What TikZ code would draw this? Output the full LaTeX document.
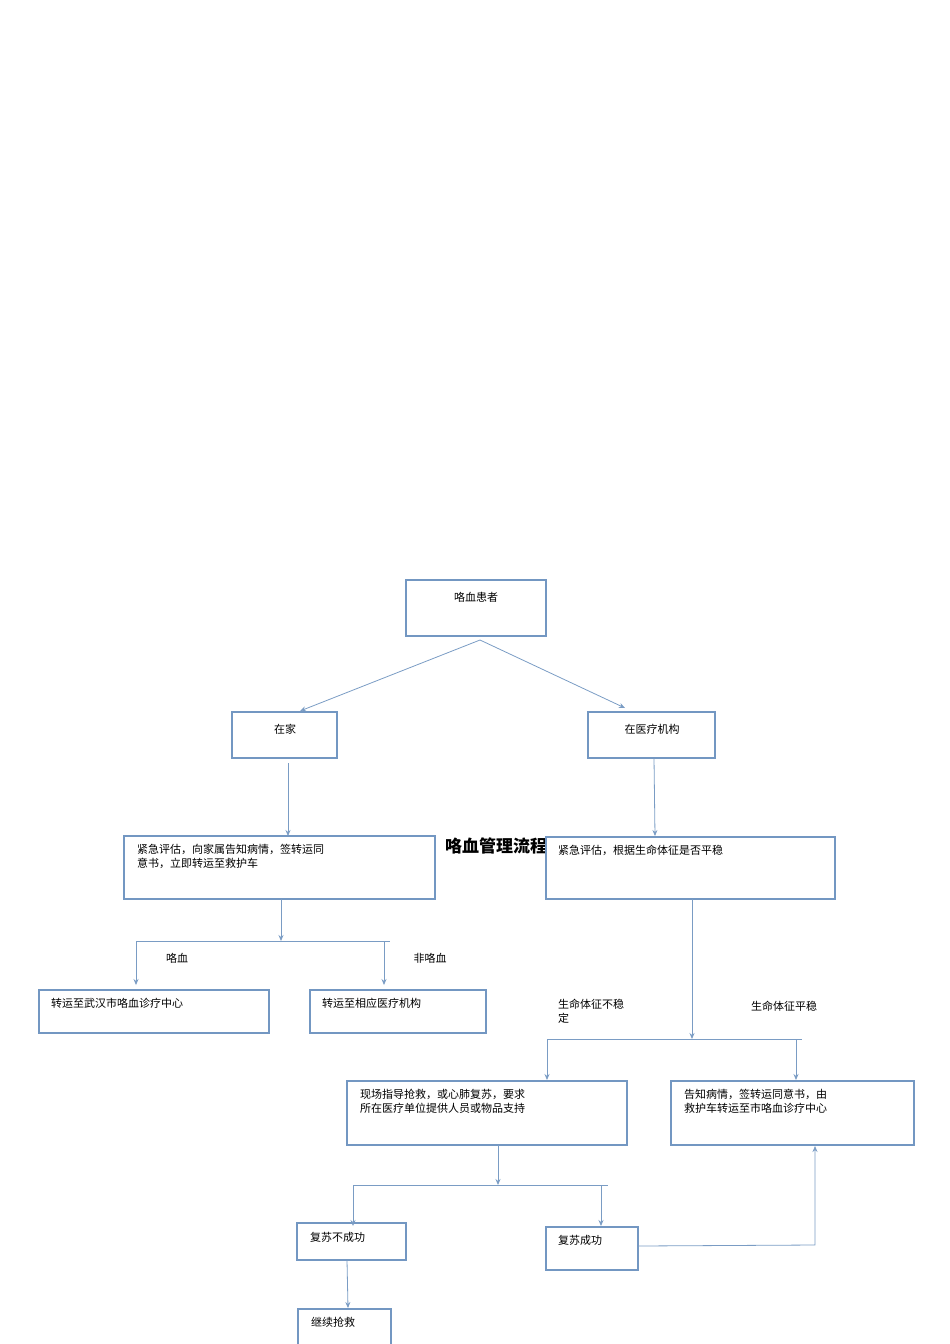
\documentclass[tikz,border=0pt]{standalone}
\usepackage{fontspec}
\setmainfont{Noto Sans CJK SC}
\begin{document}
\begin{tikzpicture}[x=1pt,y=-1pt,
 bx/.style={draw=boxc,line width=1.2pt,fill=white,inner sep=0pt},
 ln/.style={draw=linec,line width=0.8pt},
 ar/.style={ln,-{Stealth[length=6pt,width=5pt]}},
 tx/.style={anchor=north west,font=\fontsize{11}{14}\selectfont,align=left,inner sep=0pt},
 lb/.style={font=\fontsize{11}{14}\selectfont,inner sep=0pt,align=left}]
\usetikzlibrary{arrows.meta}
\definecolor{boxc}{HTML}{7397C2}
\definecolor{linec}{HTML}{7A9CC4}
\path[use as bounding box] (0,0) rectangle (950,1344);
\node[font=\fontsize{17}{20}\selectfont\bfseries] (title) at (496,846) {咯血管理流程};
% boxes
\draw[bx] (406,580) rectangle (546,636) coordinate (b1);
\node[lb] (t1) at (476,597) {咯血患者};
\draw[bx] (232,712) rectangle (337,758);
\node[lb] (t2) at (285,729) {在家};
\draw[bx] (588,712) rectangle (715,758);
\node[lb] (t3) at (652,729) {在医疗机构};
\draw[bx] (124,836) rectangle (435,899);
\node[tx] (t4) at (137,844) {紧急评估，向家属告知病情，签转运同\\意书，立即转运至救护车};
\draw[bx] (546,837) rectangle (835,899);
\node[tx] (t5) at (558,845) {紧急评估，根据生命体征是否平稳};
\draw[bx] (39,990) rectangle (269,1033);
\node[tx] (t6) at (51,998) {转运至武汉市咯血诊疗中心};
\draw[bx] (310,990) rectangle (486,1033);
\node[tx] (t7) at (322,998) {转运至相应医疗机构};
\draw[bx] (347,1081) rectangle (627,1145);
\node[tx] (t8) at (360,1089) {现场指导抢救，或心肺复苏，要求\\所在医疗单位提供人员或物品支持};
\draw[bx] (671,1081) rectangle (914,1145);
\node[tx] (t9) at (684,1089) {告知病情，签转运同意书，由\\救护车转运至市咯血诊疗中心};
\draw[bx] (297,1223) rectangle (406,1260);
\node[tx] (t10) at (310,1232) {复苏不成功};
\draw[bx] (546,1227) rectangle (638,1270);
\node[tx] (t11) at (558,1235) {复苏成功};
\draw[bx] (298,1309) rectangle (391,1350);
\node[tx] (t12) at (311,1317) {继续抢救};
% labels
\node[lb] (l1) at (177,958) {咯血};
\node[lb] (l2) at (430,958) {非咯血};
\node[tx] (l3) at (558,999) {生命体征不稳\\定};
\node[lb] (l4) at (784,1006) {生命体征平稳};
% coordinates
\coordinate (a0) at (480,640);
\coordinate (a1) at (300,711);
\coordinate (a2) at (625,708);
\coordinate (c1) at (288,763); \coordinate (c2) at (288,836);
\coordinate (d1) at (654,758); \coordinate (d2) at (655,836);
\coordinate (e1) at (281,899); \coordinate (e2) at (281,941);
\coordinate (h1) at (136,941); \coordinate (h2) at (390,941);
\coordinate (f1) at (136,985); \coordinate (f2) at (384,941); \coordinate (f3) at (384,985);
\coordinate (g1) at (692,899); \coordinate (g2) at (692,1039);
\coordinate (i1) at (547,1039); \coordinate (i2) at (802,1039);
\coordinate (j1) at (547,1080); \coordinate (j2) at (796,1039); \coordinate (j3) at (796,1080);
\coordinate (k1) at (498,1145); \coordinate (k2) at (498,1185);
\coordinate (m1) at (353,1185); \coordinate (m2) at (608,1185);
\coordinate (n1) at (353,1226); \coordinate (n2) at (601,1185); \coordinate (n3) at (601,1226);
\coordinate (o1) at (638,1246); \coordinate (o2) at (815,1245); \coordinate (o3) at (815,1146);
\coordinate (p1) at (347,1260); \coordinate (p2) at (348,1308);
% connectors
\draw[ar] (a0) -- (a1);
\draw[ar] (a0) -- (a2);
\draw[ar] (c1) -- (c2);
\draw[ar] (d1) -- (d2);
\draw[ar] (e1) -- (e2);
\draw[ln] (h1) -- (h2);
\draw[ar] (h1) -- (f1);
\draw[ar] (f2) -- (f3);
\draw[ar] (g1) -- (g2);
\draw[ln] (i1) -- (i2);
\draw[ar] (i1) -- (j1);
\draw[ar] (j2) -- (j3);
\draw[ar] (k1) -- (k2);
\draw[ln] (m1) -- (m2);
\draw[ar] (m1) -- (n1);
\draw[ar] (n2) -- (n3);
\draw[ar] (o1) -- (o2) -- (o3);
\draw[ar] (p1) -- (p2);
\end{tikzpicture}
\end{document}
